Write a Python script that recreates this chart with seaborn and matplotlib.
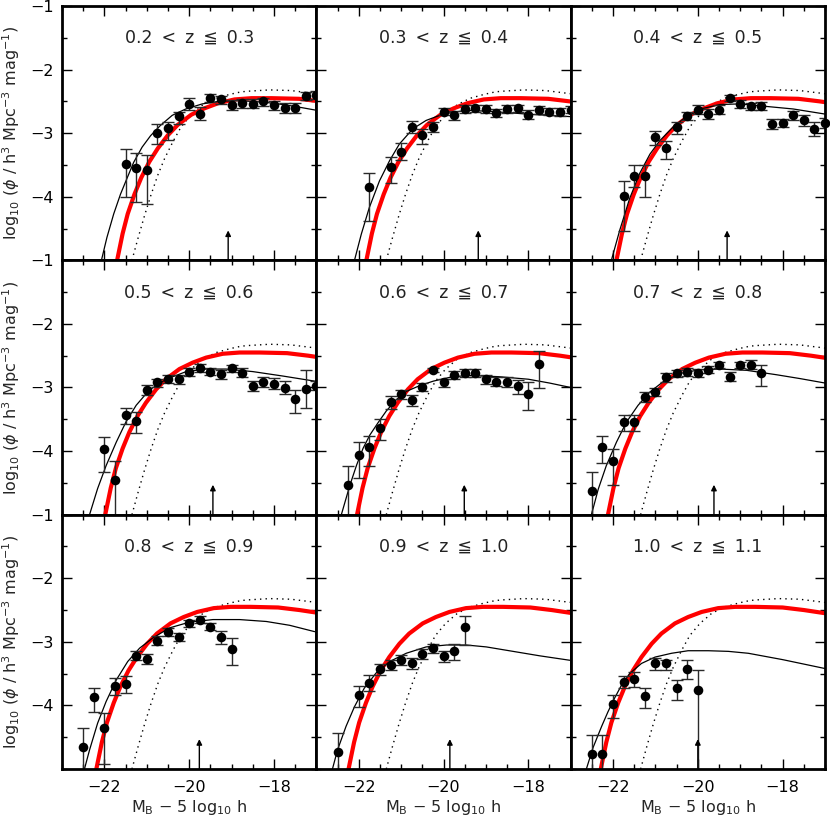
import numpy as np
import matplotlib
matplotlib.use("Agg")
import matplotlib.pyplot as plt
import seaborn as sns
from matplotlib.ticker import MultipleLocator, FixedLocator

# ---------------- data ----------------
z_labels = ["0.2 < z ≦ 0.3", "0.3 < z ≦ 0.4", "0.4 < z ≦ 0.5",
            "0.5 < z ≦ 0.6", "0.6 < z ≦ 0.7", "0.7 < z ≦ 0.8",
            "0.8 < z ≦ 0.9", "0.9 < z ≦ 1.0", "1.0 < z ≦ 1.1"]

# dotted reference luminosity function (same in every panel)
dot_M = [-21.35, -21.21, -21.05, -20.90, -20.74, -20.58, -20.38, -20.19, -19.95,
         -19.67, -19.36, -19.04, -18.77, -18.60, -18.10, -17.60, -17.00]
dot_logphi = [-5.00, -4.66, -4.29, -3.97, -3.66, -3.40, -3.13, -2.90, -2.71,
              -2.55, -2.45, -2.39, -2.35, -2.34, -2.32, -2.33, -2.38]

# red (thick) curve, as read in the 1.0<z<=1.1 panel, plus its shift per panel
red_M = [-22.35, -22.29, -22.16, -22.04, -21.88, -21.72, -21.53, -21.33, -21.09, -20.86,
         -20.54, -20.23, -19.91, -19.52, -19.12, -18.65, -18.00, -17.50, -17.00]
red_logphi = [-5.20, -5.00, -4.58, -4.27, -3.96, -3.70, -3.45, -3.24, -3.03, -2.87,
              -2.71, -2.61, -2.53, -2.47, -2.45, -2.45, -2.46, -2.50, -2.55]
red_shift = [0.59, 0.47, 0.37, 0.31, 0.25, 0.17, 0.10, 0.05, 0.00]

# thin black fitted curves
black_M = [
    [-22.07, -21.94, -21.78, -21.62, -21.46, -21.31, -21.11, -20.91, -20.68, -20.40, -20.08, -19.69, -19.30, -18.90, -18.50, -18.00, -17.50, -17.00],
    [-22.10, -21.94, -21.75, -21.51, -21.27, -21.04, -20.72, -20.41, -20.01, -19.46, -18.83, -18.04, -17.02],
    [-22.04, -21.84, -21.61, -21.37, -21.13, -20.90, -20.58, -20.27, -19.87, -19.48, -19.01, -18.54, -17.75, -17.00],
    [-22.35, -22.16, -21.96, -21.72, -21.49, -21.25, -20.94, -20.54, -20.07, -19.60, -19.13, -18.50, -17.79, -17.04],
    [-22.41, -22.21, -22.05, -21.90, -21.74, -21.54, -21.35, -21.11, -20.87, -20.56, -20.24, -19.85, -19.45, -19.06, -18.70, -18.00, -17.50, -17.00],
    [-22.51, -22.35, -22.16, -21.92, -21.69, -21.41, -21.13, -20.82, -20.43, -19.95, -19.48, -18.85, -18.14, -17.59, -17.00],
    [-22.47, -22.35, -22.16, -21.96, -21.72, -21.45, -21.17, -20.86, -20.46, -19.99, -19.44, -18.81, -18.18, -17.63, -17.04],
    [-22.62, -22.50, -22.30, -22.10, -21.87, -21.59, -21.27, -20.88, -20.41, -19.93, -19.46, -18.99, -18.36, -17.73, -17.02],
    [-22.63, -22.47, -22.27, -22.12, -21.96, -21.80, -21.61, -21.33, -21.01, -20.62, -20.23, -19.75, -19.28, -18.81, -18.00, -17.50, -17.00],
]
black_logphi = [
    [-5.00, -4.64, -4.27, -3.96, -3.70, -3.46, -3.22, -3.04, -2.88, -2.72, -2.62, -2.54, -2.50, -2.49, -2.50, -2.53, -2.58, -2.64],
    [-5.00, -4.59, -4.17, -3.75, -3.43, -3.17, -2.93, -2.80, -2.70, -2.64, -2.66, -2.70, -2.74],
    [-5.00, -4.52, -4.03, -3.63, -3.33, -3.12, -2.90, -2.74, -2.61, -2.55, -2.54, -2.57, -2.62, -2.70],
    [-5.00, -4.59, -4.23, -3.86, -3.54, -3.28, -3.04, -2.87, -2.75, -2.71, -2.71, -2.75, -2.82, -2.90],
    [-5.00, -4.54, -4.22, -3.96, -3.75, -3.55, -3.37, -3.19, -3.06, -2.97, -2.90, -2.84, -2.81, -2.82, -2.83, -2.87, -2.93, -3.00],
    [-5.00, -4.60, -4.23, -3.86, -3.55, -3.28, -3.07, -2.91, -2.78, -2.72, -2.71, -2.73, -2.80, -2.86, -2.93],
    [-5.00, -4.70, -4.28, -3.94, -3.60, -3.31, -3.10, -2.94, -2.78, -2.69, -2.65, -2.65, -2.68, -2.74, -2.84],
    [-5.00, -4.70, -4.33, -4.02, -3.73, -3.49, -3.31, -3.18, -3.08, -3.05, -3.05, -3.08, -3.15, -3.22, -3.29],
    [-5.00, -4.66, -4.33, -4.10, -3.88, -3.68, -3.50, -3.34, -3.24, -3.18, -3.14, -3.14, -3.15, -3.18, -3.28, -3.35, -3.42],
]

# data points: magnitude, log phi, lower and upper ends of the error bars
pts_M = [
    [-21.5, -21.25, -21.0, -20.75, -20.5, -20.25, -20.0, -19.75, -19.5, -19.25, -19.0, -18.75, -18.5, -18.25, -18.0, -17.75, -17.5, -17.25, -17.0],
    [-21.75, -21.25, -21.0, -20.75, -20.5, -20.25, -20.0, -19.75, -19.5, -19.25, -19.0, -18.75, -18.5, -18.25, -18.0, -17.75, -17.5, -17.25, -17.0],
    [-21.75, -21.5, -21.25, -21.0, -20.75, -20.5, -20.25, -20.0, -19.75, -19.5, -19.25, -19.0, -18.75, -18.5, -18.25, -18.0, -17.75, -17.5, -17.25, -17.0],
    [-22.0, -21.75, -21.5, -21.25, -21.0, -20.75, -20.5, -20.25, -20.0, -19.75, -19.5, -19.25, -19.0, -18.75, -18.5, -18.25, -18.0, -17.75, -17.5, -17.25, -17.0],
    [-22.25, -22.0, -21.75, -21.5, -21.25, -21.0, -20.75, -20.5, -20.25, -20.0, -19.75, -19.5, -19.25, -19.0, -18.75, -18.5, -18.25, -18.0, -17.75],
    [-22.5, -22.25, -22.0, -21.75, -21.5, -21.25, -21.0, -20.75, -20.5, -20.25, -20.0, -19.75, -19.5, -19.25, -19.0, -18.75, -18.5],
    [-22.5, -22.25, -22.0, -21.75, -21.5, -21.25, -21.0, -20.75, -20.5, -20.25, -20.0, -19.75, -19.5, -19.25, -19.0],
    [-22.5, -22.0, -21.75, -21.5, -21.25, -21.0, -20.75, -20.5, -20.25, -20.0, -19.75, -19.5],
    [-22.5, -22.25, -22.0, -21.75, -21.5, -21.25, -21.0, -20.75, -20.5, -20.25, -20.0],
]
pts_logphi = [
    [-3.48, -3.55, -3.58, -2.99, -2.92, -2.73, -2.54, -2.70, -2.44, -2.47, -2.55, -2.53, -2.54, -2.50, -2.56, -2.60, -2.60, -2.42, -2.40],
    [-3.84, -3.54, -3.30, -2.91, -3.03, -2.90, -2.66, -2.72, -2.62, -2.61, -2.62, -2.68, -2.62, -2.61, -2.71, -2.64, -2.66, -2.67, -2.63],
    [-3.99, -3.68, -3.68, -3.06, -3.24, -2.91, -2.73, -2.63, -2.70, -2.63, -2.45, -2.54, -2.58, -2.57, -2.86, -2.84, -2.72, -2.80, -2.93, -2.84],
    [-3.96, -4.45, -3.43, -3.52, -3.04, -2.92, -2.86, -2.87, -2.76, -2.69, -2.75, -2.79, -2.70, -2.77, -2.98, -2.92, -2.94, -3.01, -3.18, -3.02, -2.97],
    [-4.54, -4.06, -3.94, -3.63, -3.23, -3.11, -3.19, -2.99, -2.72, -2.92, -2.80, -2.77, -2.77, -2.87, -2.91, -2.92, -2.97, -3.10, -2.63],
    [-4.63, -3.93, -4.15, -3.55, -3.55, -3.15, -3.07, -2.84, -2.78, -2.76, -2.77, -2.72, -2.65, -2.83, -2.65, -2.64, -2.78],
    [-4.65, -3.87, -4.35, -3.69, -3.66, -3.22, -3.27, -2.98, -2.85, -2.92, -2.71, -2.65, -2.76, -2.93, -3.12],
    [-4.74, -3.83, -3.64, -3.43, -3.36, -3.29, -3.34, -3.19, -3.10, -3.22, -3.15, -2.77],
    [-4.77, -4.77, -3.97, -3.63, -3.58, -3.85, -3.33, -3.34, -3.73, -3.43, -3.75],
]
pts_lo = [
    [-4.01, -4.09, -4.12, -3.17, -3.10, -2.85, -2.63, -2.80, -2.51, -2.54, -2.64, -2.60, -2.61, -2.57, -2.64, -2.68, -2.68, -2.48, -2.46],
    [-4.38, -3.78, -3.43, -3.00, -3.17, -2.98, -2.72, -2.80, -2.69, -2.67, -2.68, -2.75, -2.68, -2.67, -2.78, -2.70, -2.72, -2.73, -2.69],
    [-4.54, -3.85, -4.00, -3.18, -3.40, -3.01, -2.80, -2.70, -2.78, -2.70, -2.50, -2.60, -2.64, -2.63, -2.94, -2.91, -2.79, -2.89, -3.04, -2.92],
    [-4.33, -5.30, -3.57, -3.72, -3.12, -2.99, -2.93, -2.94, -2.82, -2.75, -2.81, -2.86, -2.76, -2.84, -3.06, -3.00, -3.03, -3.11, -3.40, -3.33, -3.04],
    [-5.30, -4.43, -4.24, -3.83, -3.34, -3.18, -3.29, -3.06, -2.75, -2.99, -2.86, -2.83, -2.83, -2.94, -2.98, -2.99, -3.10, -3.35, -3.01],
    [-5.30, -4.19, -4.53, -3.69, -3.69, -3.23, -3.13, -2.91, -2.84, -2.82, -2.83, -2.78, -2.70, -2.90, -2.70, -2.71, -2.97],
    [-5.30, -4.10, -4.92, -3.83, -3.80, -3.29, -3.35, -3.05, -2.91, -2.99, -2.76, -2.70, -2.81, -3.03, -3.36],
    [-5.30, -4.02, -3.78, -3.52, -3.45, -3.37, -3.42, -3.27, -3.17, -3.31, -3.29, -3.05],
    [-5.30, -5.30, -4.20, -3.72, -3.71, -4.04, -3.44, -3.44, -3.91, -3.58, -5.30],
]
pts_hi = [
    [-3.25, -3.32, -3.35, -2.85, -2.82, -2.66, -2.45, -2.59, -2.38, -2.41, -2.48, -2.46, -2.47, -2.44, -2.49, -2.52, -2.52, -2.36, -2.34],
    [-3.62, -3.37, -3.16, -2.81, -2.93, -2.83, -2.60, -2.65, -2.56, -2.55, -2.56, -2.62, -2.56, -2.55, -2.64, -2.58, -2.60, -2.61, -2.57],
    [-3.75, -3.50, -3.50, -2.96, -3.12, -2.83, -2.66, -2.56, -2.62, -2.56, -2.40, -2.48, -2.52, -2.51, -2.78, -2.77, -2.65, -2.71, -2.82, -2.76],
    [-3.78, -4.15, -3.32, -3.38, -2.96, -2.86, -2.80, -2.80, -2.70, -2.63, -2.69, -2.72, -2.64, -2.70, -2.90, -2.84, -2.85, -2.90, -3.04, -2.72, -2.90],
    [-4.24, -3.86, -3.77, -3.50, -3.13, -3.04, -3.12, -2.93, -2.69, -2.86, -2.74, -2.71, -2.71, -2.80, -2.84, -2.84, -2.89, -2.92, -2.43],
    [-4.33, -3.77, -3.96, -3.44, -3.44, -3.07, -3.01, -2.78, -2.72, -2.70, -2.71, -2.66, -2.60, -2.76, -2.60, -2.57, -2.65],
    [-4.36, -3.73, -4.12, -3.57, -3.54, -3.15, -3.19, -2.91, -2.79, -2.86, -2.66, -2.60, -2.71, -2.83, -2.94],
    [-4.43, -3.70, -3.52, -3.35, -3.28, -3.21, -3.26, -3.12, -3.04, -3.14, -3.03, -2.59],
    [-4.46, -4.46, -3.83, -3.53, -3.48, -3.72, -3.26, -3.28, -3.60, -3.29, -3.45],
]

# completeness arrows
arrow_M = [-19.08, -19.18, -19.31, -19.44, -19.51, -19.62, -19.76, -19.85, -20.00]
arrow_tip = -4.53

x_ticks = [-22, -20, -18]
y_ticks = [-4, -3, -2, -1]

# ---------------- figure ----------------
sns.set_theme(style="ticks")
plt.rcParams.update({
    "font.family": ["DejaVu Sans"],
    "mathtext.fontset": "dejavusans",
    "axes.linewidth": 2.0,
    "axes.edgecolor": "black",
    "xtick.color": "black",
    "ytick.color": "black",
})

fig, axes = plt.subplots(3, 3, figsize=(8.3, 8.18), dpi=100)
fig.subplots_adjust(left=0.0747, right=0.994, top=0.9927, bottom=0.0599,
                    wspace=0, hspace=0)

gap = " \u2009"
for i, ax in enumerate(axes.flat):
    r, c = divmod(i, 3)

    sns.lineplot(x=dot_M, y=dot_logphi, ax=ax, color="black", linewidth=1.0,
                 linestyle=(0, (1, 3)), sort=False, estimator=None, zorder=2)
    sns.lineplot(x=np.array(red_M) + red_shift[i], y=red_logphi, ax=ax,
                 color="#ff0000", linewidth=3.0, sort=False, estimator=None, zorder=3)
    sns.lineplot(x=black_M[i], y=black_logphi[i], ax=ax, color="black",
                 linewidth=0.9, sort=False, estimator=None, zorder=4)

    m = np.array(pts_M[i])
    y = np.array(pts_logphi[i])
    lo = np.array(pts_lo[i])
    hi = np.array(pts_hi[i])
    ax.errorbar(m, y, yerr=[y - lo, hi - y], fmt="none", ecolor="#2a2a2a",
                elinewidth=1.0, capsize=4, capthick=1.0, zorder=5)
    sns.scatterplot(x=m, y=y, ax=ax, color="black", s=48, linewidth=0,
                    zorder=6, clip_on=False)

    ax.annotate("", xy=(arrow_M[i], arrow_tip), xytext=(arrow_M[i], -5.0),
                arrowprops=dict(arrowstyle="-|>", color="black", lw=1.0,
                                mutation_scale=8, shrinkA=0, shrinkB=0),
                zorder=6)

    ax.text(0.5, 0.875, z_labels[i].replace(" ", gap), transform=ax.transAxes,
            ha="center", va="center", fontsize=12.5, color="#222222")

    ax.set_xlim(-23, -17)
    ax.set_ylim(-5, -1)
    ax.xaxis.set_major_locator(FixedLocator(x_ticks))
    ax.xaxis.set_minor_locator(MultipleLocator(0.5))
    ax.yaxis.set_major_locator(FixedLocator(y_ticks))
    ax.yaxis.set_minor_locator(MultipleLocator(0.5))
    ax.tick_params(which="both", direction="in", top=True, right=True,
                   width=1.0, labelsize=11.5)
    ax.tick_params(which="major", length=7)
    ax.tick_params(which="minor", length=3.5)
    ax.tick_params(axis="x", which="major", pad=8)
    ax.tick_params(axis="y", which="major", pad=6)

    if c == 0:
        ax.set_ylabel(r"log$_{10}$ ($\phi$ / h$^3$ Mpc$^{-3}$ mag$^{-1}$)",
                      fontsize=11.5, labelpad=6)
    else:
        ax.set_ylabel("")
        ax.tick_params(labelleft=False)
    if r == 2:
        ax.set_xlabel(r"M$_{\rm B}$ $-$ 5 log$_{10}$ h", fontsize=11.5, labelpad=2)
    else:
        ax.set_xlabel("")
        ax.tick_params(labelbottom=False)
    for s in ax.spines.values():
        s.set_linewidth(2.0)
        s.set_zorder(10)

fig.savefig("out.png", dpi=100)
